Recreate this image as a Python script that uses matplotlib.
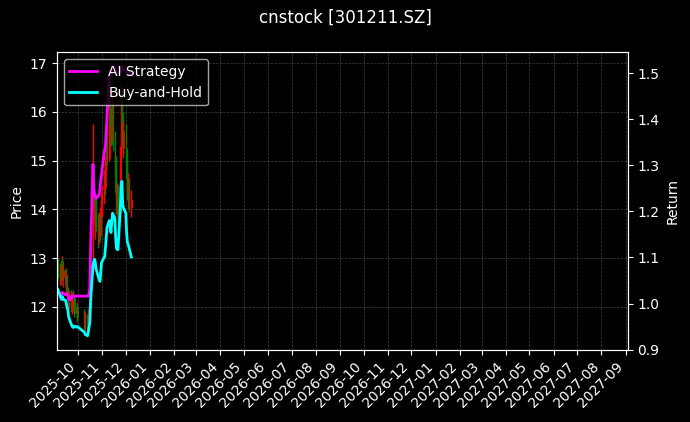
import numpy as np
import pandas as pd
import matplotlib
matplotlib.use('Agg')
import matplotlib.pyplot as plt
import matplotlib.dates as mdates

plt.style.use('dark_background')

# trading days shown
dates = ['2025-09-04', '2025-09-05', '2025-09-08', '2025-09-09', '2025-09-10', '2025-09-11', '2025-09-12',
         '2025-09-15', '2025-09-16', '2025-09-17', '2025-09-18', '2025-09-19',
         '2025-09-22', '2025-09-23', '2025-09-24', '2025-09-25', '2025-09-26', '2025-09-29', '2025-09-30',
         '2025-10-09', '2025-10-10', '2025-10-13', '2025-10-14', '2025-10-15', '2025-10-16', '2025-10-17',
         '2025-10-20', '2025-10-21', '2025-10-22', '2025-10-23', '2025-10-24',
         '2025-10-27', '2025-10-28', '2025-10-29', '2025-10-30', '2025-10-31',
         '2025-11-03', '2025-11-04', '2025-11-05', '2025-11-06', '2025-11-07',
         '2025-11-10', '2025-11-11', '2025-11-12', '2025-11-13', '2025-11-14',
         '2025-11-17', '2025-11-18', '2025-11-19', '2025-11-20', '2025-11-21',
         '2025-11-24', '2025-11-25', '2025-11-26', '2025-11-27', '2025-11-28',
         '2025-12-01', '2025-12-02', '2025-12-03', '2025-12-04', '2025-12-05', '2025-12-08']

open_p = [12.60, 12.95, 12.70, 12.55, 12.80, 12.95, 12.62, 12.75, 12.45, 12.60, 12.28, 12.10,
          12.25, 12.00, 12.20, 12.05, 12.18, 11.88, 12.00,
          11.80, 11.65, 11.78, 11.55, 11.85, 11.70, 12.10,
          12.90, 14.60, 14.00, 13.70, 14.05, 13.65, 13.40, 13.80, 13.50, 14.05,
          14.35, 14.60, 14.45, 14.95, 15.20, 15.05, 16.20, 15.90, 15.50, 16.05,
          15.35, 14.85, 14.35, 14.10, 14.40, 13.90, 15.10, 16.20, 15.60, 15.25,
          15.60, 15.05, 14.65, 14.35, 14.55, 14.05]
high_p = [13.05, 13.00, 12.90, 12.85, 13.05, 13.00, 12.85, 12.80, 12.70, 12.65, 12.40, 12.35,
          12.35, 12.30, 12.35, 12.30, 12.25, 12.10, 12.05,
          11.95, 11.90, 11.85, 11.95, 12.05, 12.20, 12.90,
          15.75, 14.90, 14.30, 14.20, 14.25, 13.90, 13.95, 13.90, 14.20, 14.50,
          14.80, 14.85, 15.10, 15.40, 15.60, 16.60, 16.80, 16.10, 16.40, 16.20,
          15.60, 15.10, 14.70, 14.55, 14.50, 15.30, 16.55, 16.45, 16.00, 15.80,
          15.75, 15.25, 14.95, 14.75, 14.65, 14.40]
low_p = [12.50, 12.60, 12.45, 12.45, 12.60, 12.55, 12.40, 12.35, 12.30, 12.20, 12.00, 11.95,
         11.90, 11.85, 11.95, 11.90, 11.80, 11.75, 11.70,
         11.55, 11.50, 11.45, 11.50, 11.60, 11.65, 12.00,
         12.85, 13.80, 13.50, 13.40, 13.55, 13.20, 13.30, 13.35, 13.45, 13.85,
         14.10, 14.30, 14.40, 14.80, 14.90, 15.00, 15.70, 15.30, 15.40, 15.20,
         14.70, 14.20, 13.90, 13.85, 13.70, 13.85, 15.00, 15.40, 15.05, 15.10,
         14.90, 14.50, 14.20, 14.00, 13.95, 13.85]
close_p = [12.95, 12.70, 12.55, 12.80, 12.95, 12.62, 12.75, 12.45, 12.60, 12.28, 12.10, 12.25,
           12.00, 12.20, 12.05, 12.18, 11.88, 12.00, 11.80,
           11.65, 11.78, 11.55, 11.85, 11.70, 12.10, 12.75,
           14.60, 14.00, 13.70, 14.05, 13.65, 13.40, 13.80, 13.50, 14.05, 14.35,
           14.60, 14.45, 14.95, 15.20, 15.05, 16.20, 15.90, 15.50, 16.05, 15.35,
           14.85, 14.35, 14.10, 14.40, 13.90, 15.10, 16.20, 15.60, 15.25, 15.60,
           15.05, 14.65, 14.35, 14.55, 14.05, 14.20]

ai_ret = [1.028, 1.026, 1.022, 1.019, 1.022, 1.024, 1.022, 1.019, 1.022, 1.021, 1.017, 1.009,
          1.009, 1.016, 1.016, 1.016, 1.016, 1.016, 1.016,
          1.016, 1.016, 1.016, 1.016, 1.022, 1.033, 1.122,
          1.302, 1.249, 1.238, 1.233, 1.228, 1.233, 1.238, 1.249, 1.270, 1.281,
          1.323, 1.333, 1.344, 1.375, 1.407, 1.505, 1.500, 1.498, 1.506, 1.516,
          1.512, 1.503, 1.498, 1.500, 1.498, 1.505, 1.512, 1.514, 1.508, 1.508,
          1.506, 1.502, 1.499, 1.500, 1.499, 1.497]
bh_ret = [1.033, 1.031, 1.017, 1.012, 1.009, 1.015, 1.009, 1.007, 0.999, 0.991, 0.985, 0.970,
          0.956, 0.952, 0.949, 0.948, 0.951, 0.949, 0.950,
          0.938, 0.933, 0.930, 0.937, 0.949, 0.959, 1.007,
          1.080, 1.091, 1.096, 1.089, 1.075, 1.057, 1.051, 1.048, 1.070, 1.089,
          1.099, 1.102, 1.122, 1.144, 1.165, 1.180, 1.170, 1.154, 1.175, 1.196,
          1.186, 1.144, 1.120, 1.117, 1.117, 1.207, 1.260, 1.265, 1.217, 1.207,
          1.196, 1.154, 1.133, 1.128, 1.122, 1.101]


def main():
	d = pd.to_datetime(dates)
	o = np.array(open_p)
	h = np.array(high_p)
	l = np.array(low_p)
	c = np.array(close_p)
	up = c >= o
	col = np.where(up, 'red', 'green')

	fig, ax1 = plt.subplots(figsize=(6.9, 4.22), dpi=100)
	fig.subplots_adjust(left=0.0826, right=0.910, top=0.876, bottom=0.171)

	# candles
	ax1.vlines(d, l, h, colors=col, linewidth=1.0)
	ax1.bar(d, np.abs(c - o), bottom=np.minimum(o, c), width=0.8, color=col, edgecolor=col, linewidth=0.6)
	ax1.set_ylabel('Price')
	ax1.set_ylim(11.12, 17.22)
	ax1.grid(True, linestyle='--', linewidth=0.5, color='gray', alpha=0.5)

	ax2 = ax1.twinx()
	ax2.plot(d, ai_ret, color='magenta', linewidth=2, label='AI Strategy')
	ax2.plot(d, bh_ret, color='cyan', linewidth=2, label='Buy-and-Hold')
	ax2.set_ylabel('Return')
	ax2.set_ylim(0.8995, 1.545)
	ax2.legend(loc='upper left')

	ax1.set_xlim(pd.Timestamp('2025-09-04'), pd.Timestamp('2027-09-04'))
	ax1.xaxis.set_major_locator(mdates.MonthLocator())
	ax1.xaxis.set_major_formatter(mdates.DateFormatter('%Y-%m'))
	plt.setp(ax1.get_xticklabels(), rotation=45, ha='right')

	fig.suptitle('cnstock [301211.SZ]', fontsize=12)
	fig.savefig('out.png', dpi=100)


if __name__ == '__main__':
	main()
